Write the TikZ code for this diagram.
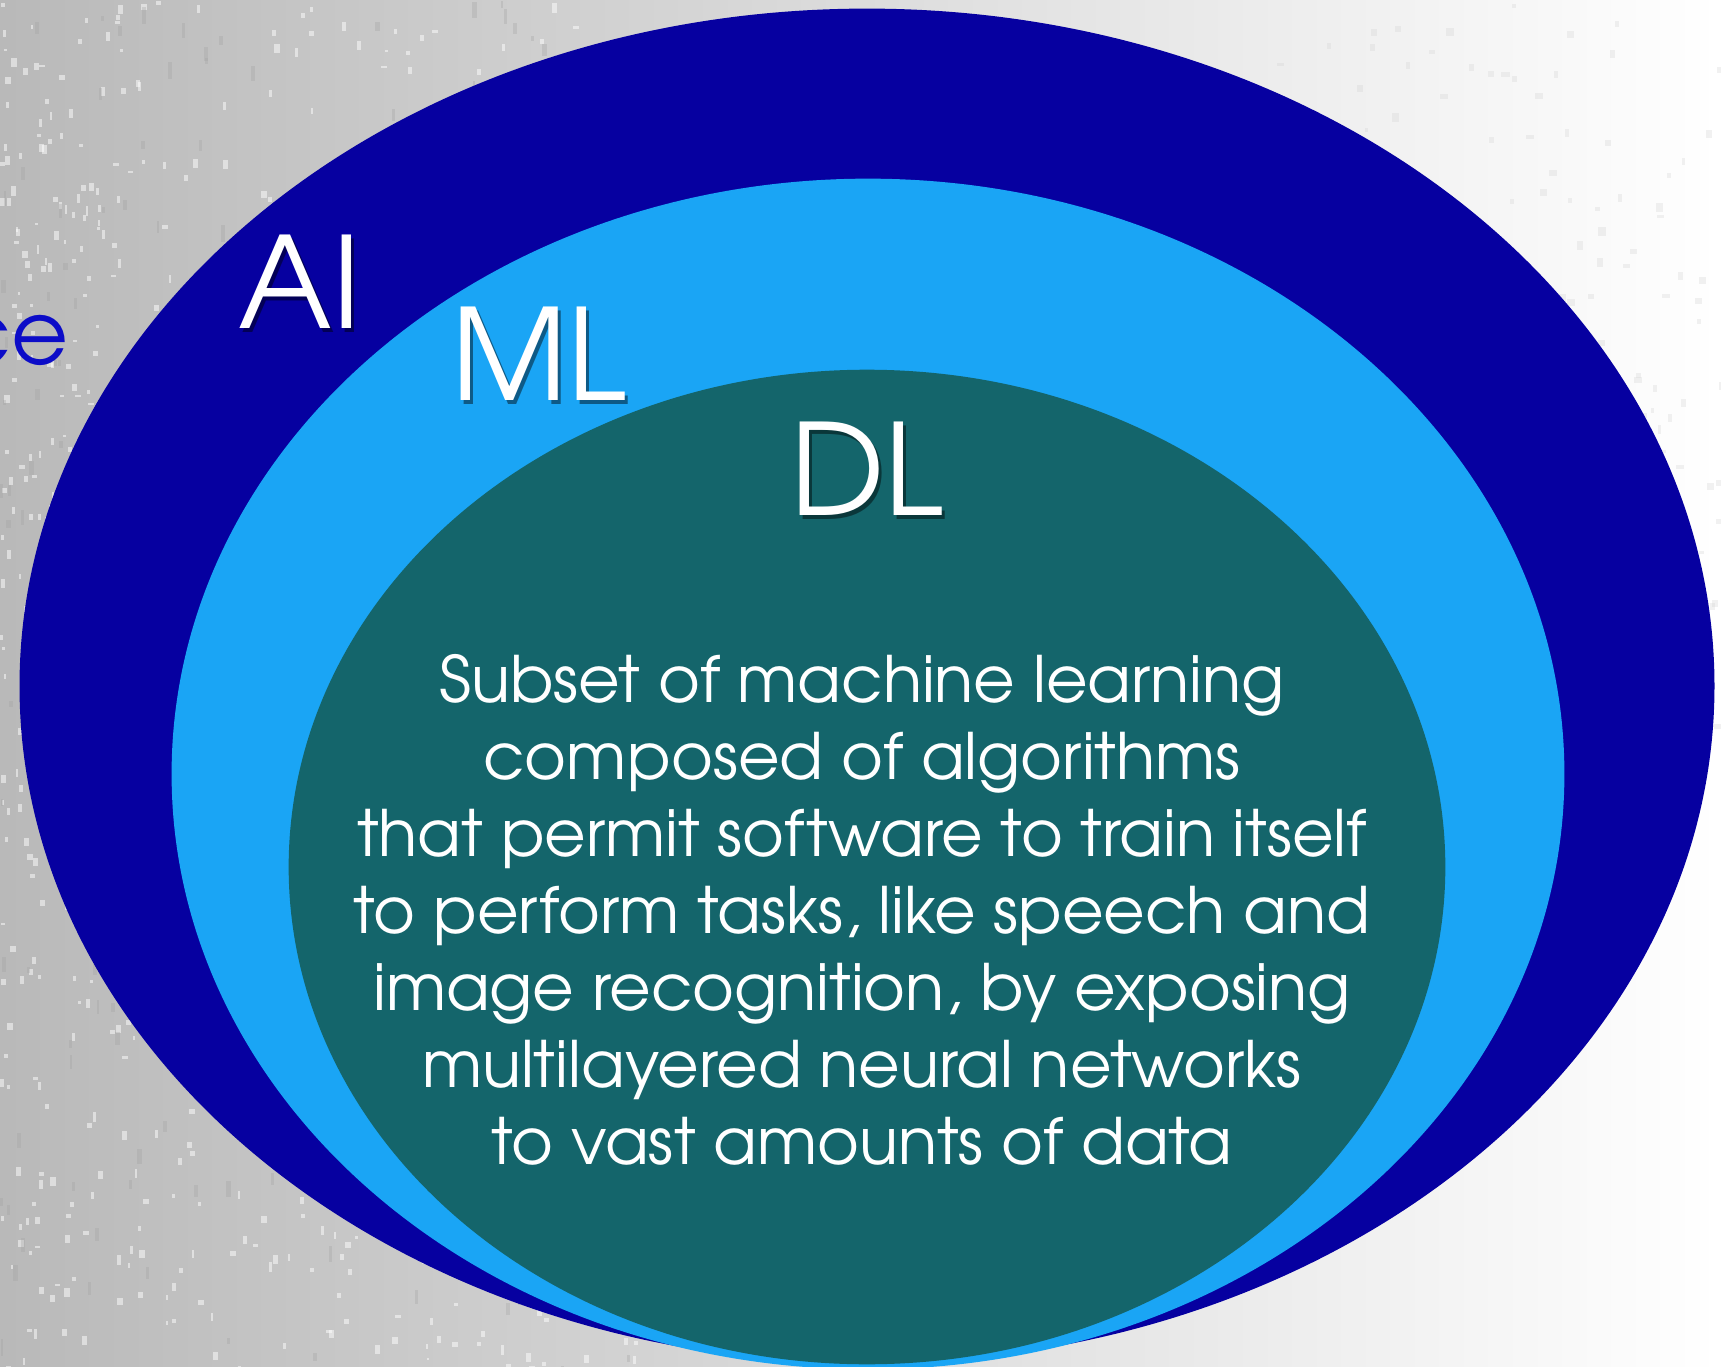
\documentclass[tikz,border=0pt]{standalone}
\usepackage{fontspec}
\setmainfont{TeX Gyre Adventor}
\usetikzlibrary{positioning}

\definecolor{aiblue}{RGB}{6,0,160}
\definecolor{mlblue}{RGB}{26,165,245}
\definecolor{dlteal}{RGB}{20,101,107}
\definecolor{ceblue}{RGB}{12,12,200}
\definecolor{grunge}{RGB}{160,160,160}

\tikzset{
  ring label/.style={text=white,anchor=base,inner sep=0pt,font=\fontsize{36}{40}\selectfont},
  ring shadow/.style={ring label,text=black,opacity=0.45},
  body line/.style={text=white,anchor=base,inner sep=0pt,font=\fontsize{18.2}{22}\selectfont}
}

\begin{document}
\begin{tikzpicture}[x=0.01cm,y=-0.01cm]
  \useasboundingbox (0,0) rectangle (1721,1367);
  \clip (0,0) rectangle (1721,1367);

  % worn grey backdrop
  \fill[left color=gray!55,right color=white] (0,0) rectangle (1721,1367);
  \pgfmathsetseed{17}
  \foreach \i in {1,...,900}{
    \pgfmathsetmacro{\sx}{950*rnd^1.5}
    \pgfmathsetmacro{\sy}{1367*rnd}
    \fill[white,opacity=0.5] (\sx,\sy) rectangle ++({2+4*rnd},{2+8*rnd});
  }
  \foreach \i in {1,...,200}{
    \pgfmathsetmacro{\sx}{700*rnd^1.4}
    \pgfmathsetmacro{\sy}{1367*rnd}
    \fill[grunge,opacity=0.3] (\sx,\sy) rectangle ++({2+3*rnd},{5+12*rnd});
  }
  \foreach \i in {1,...,220}{
    \pgfmathsetmacro{\sx}{1250+470*rnd}
    \pgfmathsetmacro{\sy}{750*rnd}
    \fill[gray!35,opacity=0.3] (\sx,\sy) rectangle ++({3+6*rnd},{3+6*rnd});
  }

  % nested sets
  \fill[aiblue] (867,686) ellipse [x radius=8.47cm, y radius=6.77cm];
  \fill[mlblue] (868,774) ellipse [x radius=6.96cm, y radius=5.95cm];
  \fill[dlteal] (867,867) ellipse [x radius=5.78cm, y radius=4.97cm];

  % leftover of the title on the left
  \node[text=ceblue,anchor=base east,inner sep=0pt,font=\fontsize{25}{28}\selectfont] (ce) at (69,365) {ce};

  % set labels with drop shadow
  \foreach \name/\px/\py/\lbl in {ai/300/329/AI, ml/539/401/ML, dl/867/516/DL}{
    \node[ring shadow] at (\px+3,\py+4) {\lbl};
    \node[ring label] (\name) at (\px,\py) {\lbl};
  }

  % description inside DL
  \foreach \txt [count=\k] in {Subset of machine learning,
      composed of algorithms,
      that permit software to train itself,
      {to perform tasks, like speech and},
      {image recognition, by exposing},
      multilayered neural networks,
      to vast amounts of data}{
    \node[body line] (line\k) at (862,{625+77*\k}) {\txt};
  }
\end{tikzpicture}
\end{document}
